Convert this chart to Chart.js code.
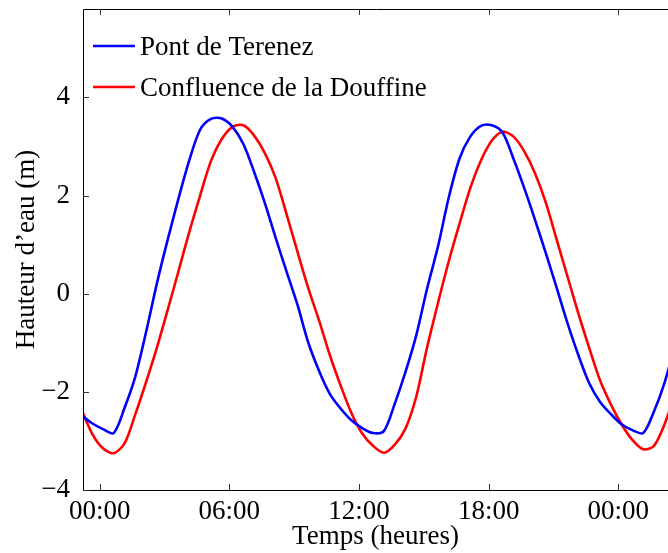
<!DOCTYPE html>
<html>
<head>
<meta charset="utf-8">
<script src="https://cdn.jsdelivr.net/npm/chart.js@4.4.1/dist/chart.umd.min.js"></script>
<style>
  body { margin: 0; background: #fff; }
</style>
</head>
<body>
<canvas id="tideChart" width="668" height="553"></canvas>
<script>
const ctx = document.getElementById('tideChart').getContext('2d');

const FONT = '"Liberation Serif", "Times New Roman", serif';

// time in hours from midnight (readings every 30 min)
const hours = [
    -0.85, -0.35, 0.15, 0.65, 1.15, 1.65, 2.15, 2.65, 3.15, 3.65,
    4.15, 4.65, 5.15, 5.65, 6.15, 6.65, 7.15, 7.65, 8.15, 8.65,
    9.15, 9.65, 10.15, 10.65, 11.15, 11.65, 12.15, 12.65, 13.15, 13.65,
    14.15, 14.65, 15.15, 15.65, 16.15, 16.65, 17.15, 17.65, 18.15, 18.65,
    19.15, 19.65, 20.15, 20.65, 21.15, 21.65, 22.15, 22.65, 23.15, 23.65,
    24.15, 24.65, 25.15, 25.65, 26.15, 26.65
];

const pontTerenez = [
    -2.48, -2.64, -2.76, -2.84, -2.33, -1.69, -0.78, 0.21, 1.10, 1.94,
    2.72, 3.34, 3.56, 3.57, 3.40, 3.05, 2.48, 1.84, 1.13, 0.45,
    -0.22, -0.99, -1.57, -2.04, -2.34, -2.58, -2.74, -2.84, -2.80, -2.25,
    -1.60, -0.85, 0.10, 0.95, 1.95, 2.75, 3.20, 3.42, 3.43, 3.28,
    2.75, 2.15, 1.50, 0.82, 0.12, -0.60, -1.25, -1.82, -2.20, -2.45,
    -2.66, -2.78, -2.84, -2.40, -1.80, -1.00
];

const confluenceDouffine = [
    -2.35, -2.85, -3.15, -3.25, -3.05, -2.46, -1.80, -1.10, -0.33, 0.46,
    1.26, 2.00, 2.70, 3.15, 3.40, 3.43, 3.22, 2.86, 2.35, 1.62,
    0.86, 0.12, -0.54, -1.25, -1.87, -2.43, -2.85, -3.10, -3.24, -3.08,
    -2.75, -2.10, -1.10, -0.20, 0.65, 1.42, 2.15, 2.72, 3.12, 3.30,
    3.20, 2.90, 2.45, 1.85, 1.10, 0.35, -0.40, -1.10, -1.76, -2.25,
    -2.66, -2.98, -3.17, -3.10, -2.65, -2.00
];

const seriesNames = ['Pont de Terenez', 'Confluence de la Douffine'];
const seriesColors = ['#0000ff', '#ff0000'];

const yTicks = [-4, -2, 0, 2, 4];

// legend drawn inside the plot, plus inward tick marks and frame
const frame = {
    id: 'frame',
    afterDraw(chart) {
        const c = chart.ctx;
        const a = chart.chartArea;
        const xs = chart.scales.x;
        const ys = chart.scales.y;
        c.save();
        c.strokeStyle = '#000';
        c.lineWidth = 1;
        c.beginPath();
        c.moveTo(a.right + 1, a.top + 0.5);
        c.lineTo(a.left + 0.5, a.top + 0.5);
        c.lineTo(a.left + 0.5, a.bottom + 0.5);
        c.lineTo(a.right + 1, a.bottom + 0.5);
        c.stroke();

        c.strokeStyle = '#333';
        c.beginPath();
        xs.ticks.forEach(t => {
            const px = Math.round(xs.getPixelForValue(t.value)) + 0.5;
            c.moveTo(px, a.bottom);
            c.lineTo(px, a.bottom - 6);
            c.moveTo(px, a.top);
            c.lineTo(px, a.top + 6);
        });
        ys.ticks.forEach(t => {
            const py = Math.round(ys.getPixelForValue(t.value)) + 0.5;
            c.moveTo(a.left, py);
            c.lineTo(a.left + 6, py);
        });
        c.stroke();

        // legend
        c.font = '27px ' + FONT;
        c.textBaseline = 'alphabetic';
        c.fillStyle = '#000';
        chart.data.datasets.forEach((ds, i) => {
            const ly = a.top + 37 + i * 41;
            c.strokeStyle = ds.borderColor;
            c.lineWidth = 2.5;
            c.beginPath();
            c.moveTo(a.left + 10, ly);
            c.lineTo(a.left + 52, ly);
            c.stroke();
            c.fillText(ds.label, a.left + 57, ly + 9);
        });
        c.restore();
    }
};

const data = {
    datasets: seriesNames.map((name, i) => ({
        label: name,
        data: hours.map((h, j) => ({ x: h, y: (i === 0 ? pontTerenez : confluenceDouffine)[j] })),
        borderColor: seriesColors[i],
        borderWidth: 2.6,
        pointRadius: 0,
        fill: false,
        tension: 0.3,
    })),
};

const config = {
    type: 'line',
    data: data,
    options: {
        responsive: false,
        animation: false,
        layout: { padding: { top: 9, right: 0, left: 0, bottom: 0 } },
        plugins: {
            legend: { display: false },
            tooltip: { enabled: false },
        },
        scales: {
            x: {
                type: 'linear',
                min: -0.77,
                max: 26.3,
                grid: { display: false },
                border: { display: false },
                ticks: {
                    stepSize: 6,
                    includeBounds: false,
                    maxRotation: 0,
                    padding: -2,
                    color: '#000',
                    font: { family: FONT, size: 27 },
                    callback: function(value) {
                        const h = ((value % 24) + 24) % 24;
                        return String(h).padStart(2, '0') + ':00';
                    },
                },
                title: {
                    display: true,
                    text: 'Temps (heures)',
                    color: '#000',
                    font: { family: FONT, size: 27 },
                    padding: { top: 0, bottom: 0 },
                },
                afterFit: function(scale) {
                    scale.height = 63;
                    scale.paddingLeft = 0;
                    scale.paddingRight = 0;
                },
            },
            y: {
                min: -4,
                max: 5.8,
                grid: { display: false },
                border: { display: false },
                afterBuildTicks: function(scale) {
                    scale.ticks = yTicks.map(v => ({ value: v }));
                },
                ticks: {
                    padding: 5,
                    color: '#000',
                    font: { family: FONT, size: 27 },
                    callback: function(value) {
                        return String(value).replace('-', '\u2212');
                    },
                },
                title: {
                    display: true,
                    text: 'Hauteur d\u2019eau (m)',
                    color: '#000',
                    font: { family: FONT, size: 27 },
                    padding: { top: 11, bottom: 0 },
                },
                afterFit: function(scale) {
                    scale.width = 83;
                    scale.paddingTop = 0;
                    scale.paddingBottom = 0;
                },
            },
        },
    },
    plugins: [frame],
};

const tideChart = new Chart(ctx, config);
</script>
</body>
</html>
